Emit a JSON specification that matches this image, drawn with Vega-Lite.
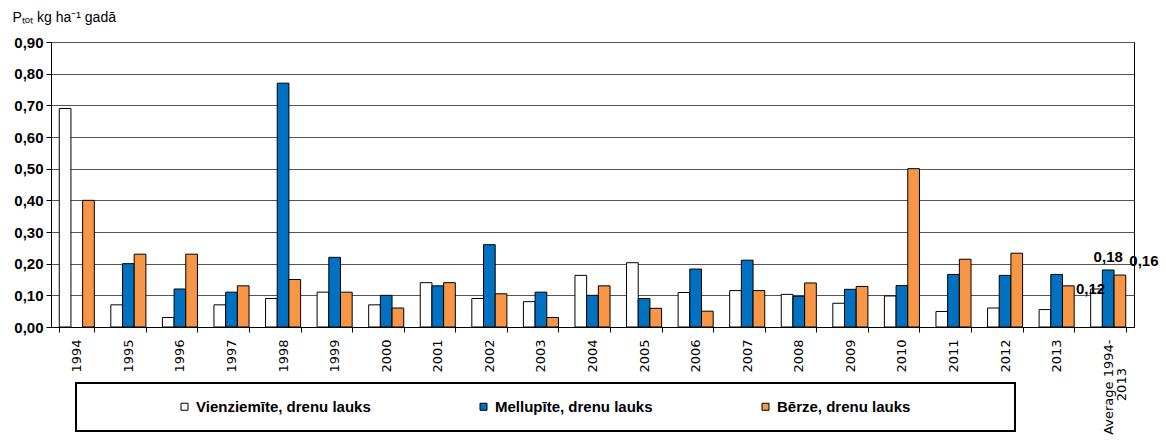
{
  "$schema": "https://vega.github.io/schema/vega-lite/v6.json",
  "autosize": {"type": "none"},
  "width": 1083,
  "height": 285,
  "padding": {"left": 51, "top": 42, "right": 32, "bottom": 115},
  "config": {
    "locale": {"number": {"decimal": ",", "thousands": ".", "grouping": [3], "currency": ["", ""]}},
    "font": "Liberation Sans",
    "view": {"stroke": "#000000", "strokeWidth": 1}
  },
  "data": {"values": [
    {"year": "1994", "series": "Vienziemīte, drenu lauks", "value": 0.69},
    {"year": "1994", "series": "Bērze, drenu lauks", "value": 0.40},
    {"year": "1995", "series": "Vienziemīte, drenu lauks", "value": 0.07},
    {"year": "1995", "series": "Mellupīte, drenu lauks", "value": 0.20},
    {"year": "1995", "series": "Bērze, drenu lauks", "value": 0.23},
    {"year": "1996", "series": "Vienziemīte, drenu lauks", "value": 0.03},
    {"year": "1996", "series": "Mellupīte, drenu lauks", "value": 0.12},
    {"year": "1996", "series": "Bērze, drenu lauks", "value": 0.23},
    {"year": "1997", "series": "Vienziemīte, drenu lauks", "value": 0.07},
    {"year": "1997", "series": "Mellupīte, drenu lauks", "value": 0.11},
    {"year": "1997", "series": "Bērze, drenu lauks", "value": 0.13},
    {"year": "1998", "series": "Vienziemīte, drenu lauks", "value": 0.09},
    {"year": "1998", "series": "Mellupīte, drenu lauks", "value": 0.77},
    {"year": "1998", "series": "Bērze, drenu lauks", "value": 0.15},
    {"year": "1999", "series": "Vienziemīte, drenu lauks", "value": 0.11},
    {"year": "1999", "series": "Mellupīte, drenu lauks", "value": 0.22},
    {"year": "1999", "series": "Bērze, drenu lauks", "value": 0.11},
    {"year": "2000", "series": "Vienziemīte, drenu lauks", "value": 0.07},
    {"year": "2000", "series": "Mellupīte, drenu lauks", "value": 0.10},
    {"year": "2000", "series": "Bērze, drenu lauks", "value": 0.06},
    {"year": "2001", "series": "Vienziemīte, drenu lauks", "value": 0.14},
    {"year": "2001", "series": "Mellupīte, drenu lauks", "value": 0.13},
    {"year": "2001", "series": "Bērze, drenu lauks", "value": 0.14},
    {"year": "2002", "series": "Vienziemīte, drenu lauks", "value": 0.09},
    {"year": "2002", "series": "Mellupīte, drenu lauks", "value": 0.26},
    {"year": "2002", "series": "Bērze, drenu lauks", "value": 0.105},
    {"year": "2003", "series": "Vienziemīte, drenu lauks", "value": 0.08},
    {"year": "2003", "series": "Mellupīte, drenu lauks", "value": 0.11},
    {"year": "2003", "series": "Bērze, drenu lauks", "value": 0.03},
    {"year": "2004", "series": "Vienziemīte, drenu lauks", "value": 0.163},
    {"year": "2004", "series": "Mellupīte, drenu lauks", "value": 0.10},
    {"year": "2004", "series": "Bērze, drenu lauks", "value": 0.13},
    {"year": "2005", "series": "Vienziemīte, drenu lauks", "value": 0.203},
    {"year": "2005", "series": "Mellupīte, drenu lauks", "value": 0.09},
    {"year": "2005", "series": "Bērze, drenu lauks", "value": 0.059},
    {"year": "2006", "series": "Vienziemīte, drenu lauks", "value": 0.109},
    {"year": "2006", "series": "Mellupīte, drenu lauks", "value": 0.183},
    {"year": "2006", "series": "Bērze, drenu lauks", "value": 0.05},
    {"year": "2007", "series": "Vienziemīte, drenu lauks", "value": 0.115},
    {"year": "2007", "series": "Mellupīte, drenu lauks", "value": 0.211},
    {"year": "2007", "series": "Bērze, drenu lauks", "value": 0.115},
    {"year": "2008", "series": "Vienziemīte, drenu lauks", "value": 0.103},
    {"year": "2008", "series": "Mellupīte, drenu lauks", "value": 0.097},
    {"year": "2008", "series": "Bērze, drenu lauks", "value": 0.139},
    {"year": "2009", "series": "Vienziemīte, drenu lauks", "value": 0.075},
    {"year": "2009", "series": "Mellupīte, drenu lauks", "value": 0.119},
    {"year": "2009", "series": "Bērze, drenu lauks", "value": 0.128},
    {"year": "2010", "series": "Vienziemīte, drenu lauks", "value": 0.098},
    {"year": "2010", "series": "Mellupīte, drenu lauks", "value": 0.131},
    {"year": "2010", "series": "Bērze, drenu lauks", "value": 0.50},
    {"year": "2011", "series": "Vienziemīte, drenu lauks", "value": 0.049},
    {"year": "2011", "series": "Mellupīte, drenu lauks", "value": 0.166},
    {"year": "2011", "series": "Bērze, drenu lauks", "value": 0.214},
    {"year": "2012", "series": "Vienziemīte, drenu lauks", "value": 0.06},
    {"year": "2012", "series": "Mellupīte, drenu lauks", "value": 0.163},
    {"year": "2012", "series": "Bērze, drenu lauks", "value": 0.233},
    {"year": "2013", "series": "Vienziemīte, drenu lauks", "value": 0.055},
    {"year": "2013", "series": "Mellupīte, drenu lauks", "value": 0.166},
    {"year": "2013", "series": "Bērze, drenu lauks", "value": 0.13},
    {"year": "Average 1994-2013", "series": "Vienziemīte, drenu lauks", "value": 0.12},
    {"year": "Average 1994-2013", "series": "Mellupīte, drenu lauks", "value": 0.18},
    {"year": "Average 1994-2013", "series": "Bērze, drenu lauks", "value": 0.164}
  ]},
  "encoding": {
    "x": {
      "field": "year", "type": "nominal", "sort": null,
      "scale": {"paddingInner": 0.32, "paddingOuter": 0.16},
      "axis": {
        "title": null, "labelAngle": -90, "labelFontSize": 13, "labelColor": "#000000",
        "labelFont": "DejaVu Sans",
        "domainColor": "#000000", "tickColor": "#000000", "tickSize": 5, "tickBand": "extent",
        "labelPadding": 7, "labelLineHeight": 13, "labelLimit": 200,
        "labelExpr": "datum.value == 'Average 1994-2013' ? ['Average 1994-', '2013\u2800\u2800\u2800'] : datum.value"
      }
    },
    "xOffset": {
      "field": "series", "type": "nominal",
      "sort": ["Vienziemīte, drenu lauks", "Mellupīte, drenu lauks", "Bērze, drenu lauks"],
      "scale": {"domain": ["Vienziemīte, drenu lauks", "Mellupīte, drenu lauks", "Bērze, drenu lauks"], "paddingInner": 0, "paddingOuter": 0}
    },
    "y": {
      "field": "value", "type": "quantitative",
      "scale": {"domain": [0, 0.9], "nice": false},
      "axis": {
        "title": "Pₜₒₜ kg ha⁻¹ gadā", "titleAngle": 0, "titleAlign": "left", "titleBaseline": "alphabetic",
        "titleX": -39, "titleY": -21, "titleFont": "Liberation Sans", "titleFontSize": 14, "titleFontWeight": "normal", "titleColor": "#000000",
        "values": [0, 0.1, 0.2, 0.3, 0.4, 0.5, 0.6, 0.7, 0.8, 0.9], "format": ".2f",
        "labelFontWeight": "bold", "labelFontSize": 15, "labelColor": "#000000", "labelFont": "Liberation Sans",
        "domainColor": "#000000", "tickColor": "#000000", "tickSize": 5, "labelPadding": 3,
        "gridColor": "#555555", "gridOpacity": 1
      }
    }
  },
  "layer": [
    {
      "mark": {"type": "bar", "stroke": "#000000", "strokeWidth": 1},
      "encoding": {
        "color": {
          "field": "series", "type": "nominal",
          "scale": {"domain": ["Vienziemīte, drenu lauks", "Mellupīte, drenu lauks", "Bērze, drenu lauks"], "range": ["#FFFFFF", "#0070C0", "#F79646"]},
          "legend": {
            "title": " ", "titleOrient": "left", "titlePadding": 85,
            "orient": "none", "legendX": 25, "legendY": 341, "direction": "horizontal",
            "symbolType": "square", "symbolSize": 49, "symbolStrokeColor": "#000000", "symbolStrokeWidth": 1,
            "labelFontWeight": "bold", "labelFontSize": 15, "labelColor": "#000000", "labelFont": "Liberation Sans",
            "labelOffset": 4, "columnPadding": 105, "labelLimit": 400,
            "labelExpr": "datum.label == 'Bērze, drenu lauks' ? datum.label + '\u2800\u2800\u2800\u2800\u2800\u2800\u2800\u2800' : datum.label",
            "strokeColor": "#000000", "padding": 16,
            "encode": {"legend": {"update": {"strokeWidth": {"value": 2}}}}
          }
        }
      }
    },
    {
      "transform": [{"filter": "datum.year == 'Average 1994-2013' && datum.series == 'Vienziemīte, drenu lauks'"}],
      "mark": {"type": "text", "fontWeight": "bold", "fontSize": 15, "dx": -6, "dy": 0, "baseline": "middle", "font": "Liberation Sans"},
      "encoding": {"text": {"field": "value", "type": "quantitative", "format": ".2f"}}
    },
    {
      "transform": [{"filter": "datum.year == 'Average 1994-2013' && datum.series == 'Mellupīte, drenu lauks'"}],
      "mark": {"type": "text", "fontWeight": "bold", "fontSize": 15, "dx": 0, "dy": -13, "baseline": "middle", "font": "Liberation Sans"},
      "encoding": {"text": {"field": "value", "type": "quantitative", "format": ".2f"}}
    },
    {
      "transform": [{"filter": "datum.year == 'Average 1994-2013' && datum.series == 'Bērze, drenu lauks'"}],
      "mark": {"type": "text", "fontWeight": "bold", "fontSize": 15, "dx": 24, "dy": -14, "baseline": "middle", "font": "Liberation Sans"},
      "encoding": {"text": {"field": "value", "type": "quantitative", "format": ".2f"}}
    }
  ]
}
